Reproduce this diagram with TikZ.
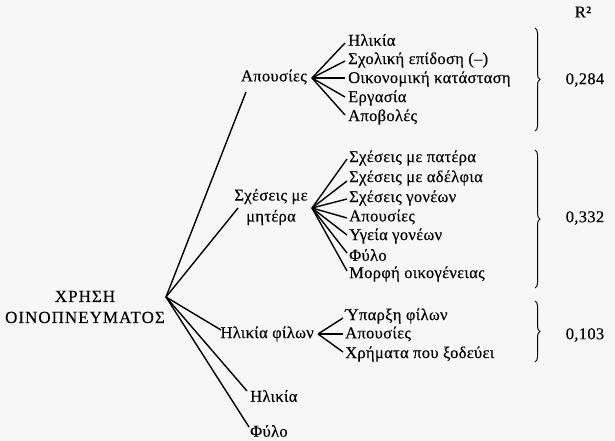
\documentclass[tikz,border=0pt]{standalone}
\usepackage{fontspec}
\setmainfont{Liberation Serif}
\newfontfamily\lblfont[LetterSpace=2,FakeBold=0.3]{Liberation Serif}
\newfontfamily\capfont[LetterSpace=6,FakeBold=0.3]{Liberation Serif}
\usetikzlibrary{decorations.pathreplacing}
\begin{document}
\begin{tikzpicture}[x=1pt,y=-1pt,
  lbl/.style={anchor=west,inner sep=0pt,font=\lblfont\fontsize{16.5}{20}\selectfont},
  two/.style={align=center,inner sep=0pt,font=\lblfont\fontsize{16.5}{21}\selectfont},
  num/.style={inner sep=0pt,font=\lblfont\fontsize{16.5}{20}\selectfont},
  ln/.style={line width=1.4pt},
  br/.style={line width=1pt,decorate,decoration={brace,amplitude=5pt}}]
\fill[black!3] (0,0) rectangle (615,441);
\useasboundingbox (0,0) rectangle (615,441);
% root
\node[align=center,inner sep=0pt,font=\capfont\fontsize{17}{21}\selectfont] (root) at (85,307) {ΧΡΗΣΗ\\ΟΙΝΟΠΝΕΥΜΑΤΟΣ};
\coordinate (r) at (166,297);
% level 1
\node[lbl,anchor=east] (apou) at (307,77) {Απουσίες};
\coordinate (apouIn) at (246,92);
\coordinate (apouOut) at (312,78);
\node[two] (sx) at (271,207) {Σχέσεις με\\μητέρα};
\coordinate (sxIn) at (238,208);
\coordinate (sxOut) at (312,208);
\node[lbl,anchor=east] (hf) at (314,334) {Ηλικία φίλων};
\coordinate (hfIn) at (221,330);
\coordinate (hfOut) at (318,334);
\node[lbl] (hl) at (250,396) {Ηλικία};
\coordinate (hlIn) at (247,391);
\node[lbl] (fy) at (250,431) {Φύλο};
\coordinate (fyIn) at (249,427);
\draw[ln] (r) -- (apouIn);
\draw[ln] (r) -- (sxIn);
\draw[ln] (r) -- (hfIn);
\draw[ln] (r) -- (hlIn);
\draw[ln] (r) -- (fyIn);
% children of Απουσίες
\foreach \n/\y/\ey/\t in {a1/40/43/{Ηλικία},a2/60/61/{Σχολική επίδοση (–)},a3/79/78/{Οικονομική κατάσταση},a4/98/97/{Εργασία},a5/117/115/{Αποβολές}}{
  \node[lbl] (\n) at (348,\y) {\t};
  \coordinate (\n e) at (345,\ey);
  \draw[ln] (apouOut) -- (\n e);
}
% children of Σχέσεις
\foreach \n/\y/\ey/\t in {s1/158/159/{Σχέσεις με πατέρα},s2/178/181/{Σχέσεις με αδέλφια},s3/198/199/{Σχέσεις γονέων},s4/217/218/{Απουσίες},s5/236/235/{Υγεία γονέων},s6/255/253/{Φύλο},s7/274/271/{Μορφή οικογένειας}}{
  \node[lbl] (\n) at (349,\y) {\t};
  \coordinate (\n e) at (347,\ey);
  \draw[ln] (sxOut) -- (\n e);
}
% children of Ηλικία φίλων
\foreach \n/\y/\ey/\t in {h1/316/318/{Ύπαρξη φίλων},h2/334/334/{Απουσίες},h3/354/352/{Χρήματα που ξοδεύει}}{
  \node[lbl] (\n) at (345,\y) {\t};
  \coordinate (\n e) at (343,\ey);
  \draw[ln] (hfOut) -- (\n e);
}
% braces
\coordinate (b1t) at (535,28); \coordinate (b1b) at (535,131);
\coordinate (b2t) at (535,150); \coordinate (b2b) at (535,288);
\coordinate (b3t) at (535,301); \coordinate (b3b) at (535,362);
\draw[br] (b1t) -- (b1b);
\draw[br] (b2t) -- (b2b);
\draw[br] (b3t) -- (b3b);
\node[num] (r2) at (583,12) {R²};
\node[num] (v1) at (585,80) {0,284};
\node[num] (v2) at (585,218) {0,332};
\node[num] (v3) at (585,335) {0,103};
\end{tikzpicture}
\end{document}
